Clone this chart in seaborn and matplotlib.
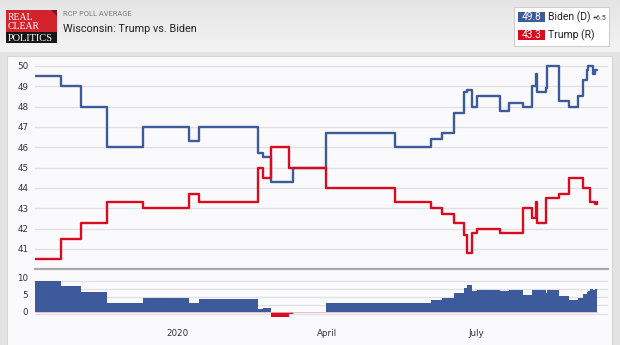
import numpy as np
import pandas as pd
import matplotlib
matplotlib.use("Agg")
import matplotlib.pyplot as plt
from matplotlib.patches import Rectangle, Polygon
from matplotlib.colors import LinearSegmentedColormap
import seaborn as sns

# RCP polling average, Wisconsin (values change only on these dates)
dates = ["2019-10-06", "2019-10-22", "2019-11-03", "2019-11-19", "2019-12-11",
         "2020-01-08", "2020-01-14", "2020-02-19", "2020-02-22", "2020-02-27",
         "2020-03-09", "2020-03-11", "2020-03-31", "2020-05-12", "2020-06-03",
         "2020-06-10", "2020-06-17", "2020-06-23", "2020-06-25", "2020-06-28",
         "2020-07-01", "2020-07-15", "2020-07-21", "2020-07-29", "2020-08-04",
         "2020-08-06", "2020-08-07", "2020-08-12", "2020-08-13", "2020-08-20",
         "2020-08-26", "2020-09-01", "2020-09-04", "2020-09-06", "2020-09-07",
         "2020-09-08", "2020-09-10", "2020-09-11", "2020-09-12"]
biden = [49.5, 49.0, 48.0, 46.0, 47.0, 46.3, 47.0, 45.7, 45.5, 44.3,
         44.3, 45.0, 46.7, 46.0, 46.4, 46.7, 47.7, 48.7, 48.8, 48.0,
         48.5, 47.8, 48.2, 48.0, 49.0, 49.6, 48.7, 48.9, 50.0, 48.3,
         48.0, 48.5, 49.3, 49.8, 50.0, 50.0, 49.6, 49.8, 49.8]
trump = [40.5, 41.5, 42.3, 43.3, 43.0, 43.7, 43.3, 45.0, 44.5, 46.0,
         45.0, 45.0, 44.0, 43.3, 43.0, 42.7, 42.3, 41.7, 40.8, 41.8,
         42.0, 41.8, 41.8, 43.0, 42.5, 43.3, 42.3, 43.5, 43.5, 43.7,
         44.5, 44.5, 44.0, 44.0, 44.0, 43.3, 43.3, 43.2, 43.3]

main_ticks = [41, 42, 43, 44, 45, 46, 47, 48, 49, 50]
spread_ticks = [0, 5, 10]
month_ticks = ["2020-01-01", "2020-04-01", "2020-07-01"]
month_labels = ["2020", "April", "July"]

sns.set_style("white")
plt.rcParams["font.family"] = ["DejaVu Sans"]

BLUE = "#3d5b9b"
RED = "#da0a1f"
GRID = "#e1e1e5"
PANEL = "#fafafc"

df = pd.DataFrame({"date": pd.to_datetime(dates), "Biden": biden, "Trump": trump})
df["spread"] = df["Biden"] - df["Trump"]

W, H = 620, 345
fig = plt.figure(figsize=(W / 100, H / 100), dpi=100)
fig.patch.set_facecolor("#e3e3e3")


def box(x0, y0, x1, y1):
    return [x0 / W, 1 - y1 / H, (x1 - x0) / W, (y1 - y0) / H]


# backdrop in pixel coordinates: header band, logo, legend, panel
bg = fig.add_axes([0, 0, 1, 1], zorder=0)
hdr = LinearSegmentedColormap.from_list("hdr", ["#e5e5e5", "#f3f3f3"])
bg.imshow(np.linspace(0, 1, 64)[:, None], extent=(0, W, 52, 0), cmap=hdr,
          aspect="auto", interpolation="bilinear")
bg.set_xlim(0, W)
bg.set_ylim(H, 0)
bg.axis("off")
bg.add_patch(Rectangle((7, 55.7), 605, 295, fc=PANEL, ec="#d6d6d6", lw=0.8))

# logo
bg.add_patch(Rectangle((6, 10), 50.7, 22.3, fc="#d3232c", ec="none"))
bg.add_patch(Rectangle((6, 32.3), 50.7, 11, fc="#161616", ec="none"))
bg.add_patch(Polygon([(50.5, 10), (56.7, 10), (56.7, 16.2)], fc="#7c1519", ec="none"))
serif = "Liberation Serif"
bg.text(7.5, 18.0, "REAL", color="white", fontsize=7.0, family=serif, va="center")
bg.text(7.5, 26.8, "CLEAR", color="white", fontsize=7.0, family=serif, va="center")
bg.text(7.5, 38.2, "POLITICS", color="white", fontsize=7.5, family=serif, va="center")

bg.text(63, 14.5, "RCP POLL AVERAGE", color="#7a7a7a", fontsize=5.4,
        family="Roboto", va="center")
bg.text(63, 28.5, "Wisconsin: Trump vs. Biden", color="#222222", fontsize=7.8,
        family="Roboto", va="center")

# legend with latest values
bg.add_patch(Rectangle((514, 6.7), 95, 39, fc="white", ec="#cfcfcf", lw=0.8))
rows = [(17.3, BLUE, biden[-1], "Biden (D)"), (35.0, RED, trump[-1], "Trump (R)")]
for yc, col, val, name in rows:
    bg.add_patch(Rectangle((517.7, yc - 5), 27.3, 10, fc=col, ec="none"))
    bg.text(531.3, yc, f"{val:.1f}", color="white", fontsize=7.3, family="Roboto",
            ha="center", va="center")
    bg.text(548, yc, name, color="#222222", fontsize=7.5, family="Roboto", va="center")
bg.text(593, 18.0, f"+{biden[-1] - trump[-1]:.1f}", color="#333333", fontsize=5.0,
        family="Roboto", va="center")

x_left = pd.Timestamp("2019-10-06")
x_right = pd.Timestamp("2020-09-19")

# candidate lines
ax = fig.add_axes(box(35, 55.8, 608, 269.3), zorder=2)
ax.patch.set_alpha(0)
sns.lineplot(data=df, x="date", y="Biden", ax=ax, color=BLUE, lw=1.7,
             drawstyle="steps-post")
sns.lineplot(data=df, x="date", y="Trump", ax=ax, color=RED, lw=1.7,
             drawstyle="steps-post")
ax.set_xlim(x_left, x_right)
ax.set_ylim(40, 50.5)
ax.set_yticks(main_ticks)
ax.yaxis.grid(True, color=GRID, lw=1.0)
ax.set_axisbelow(True)
ax.set_xticks([])
ax.set_xlabel("")
ax.set_ylabel("")
for side in ("top", "left", "right"):
    ax.spines[side].set_visible(False)
ax.spines["bottom"].set_color("#a9a9a9")
ax.spines["bottom"].set_linewidth(1.6)
ax.tick_params(axis="y", length=0, pad=4.8, labelsize=6.3, labelcolor="#333333")

# spread panel
ax2 = fig.add_axes(box(35, 271, 608, 318), zorder=2)
ax2.patch.set_alpha(0)
for v in (9.03, 6.59, 4.24, 1.88, -0.68):
    ax2.axhline(v, color=GRID, lw=0.9, zorder=0)
pos = df["spread"].clip(lower=0)
neg = df["spread"].clip(upper=0)
ax2.fill_between(df["date"], pos, 0, step="post", color=BLUE, lw=0, zorder=2)
ax2.fill_between(df["date"], neg, 0, step="post", color=RED, lw=0, zorder=2)
ax2.plot([df["date"].iloc[0], df["date"].iloc[-1]], [0, 0], color="#e9b3bd",
         lw=0.6, zorder=3)
ax2.set_xlim(x_left, x_right)
ax2.set_ylim(-1.85, 11.97)
ax2.set_yticks(spread_ticks)
ax2.set_xticks(pd.to_datetime(month_ticks))
ax2.set_xticklabels(month_labels)
for side in ax2.spines:
    ax2.spines[side].set_visible(False)
ax2.tick_params(axis="y", length=0, pad=4.8, labelsize=6.3, labelcolor="#333333")
ax2.tick_params(axis="x", length=0, pad=8.0, labelsize=6.3, labelcolor="#333333")

fig.savefig("out.png", dpi=100, facecolor=fig.get_facecolor())
